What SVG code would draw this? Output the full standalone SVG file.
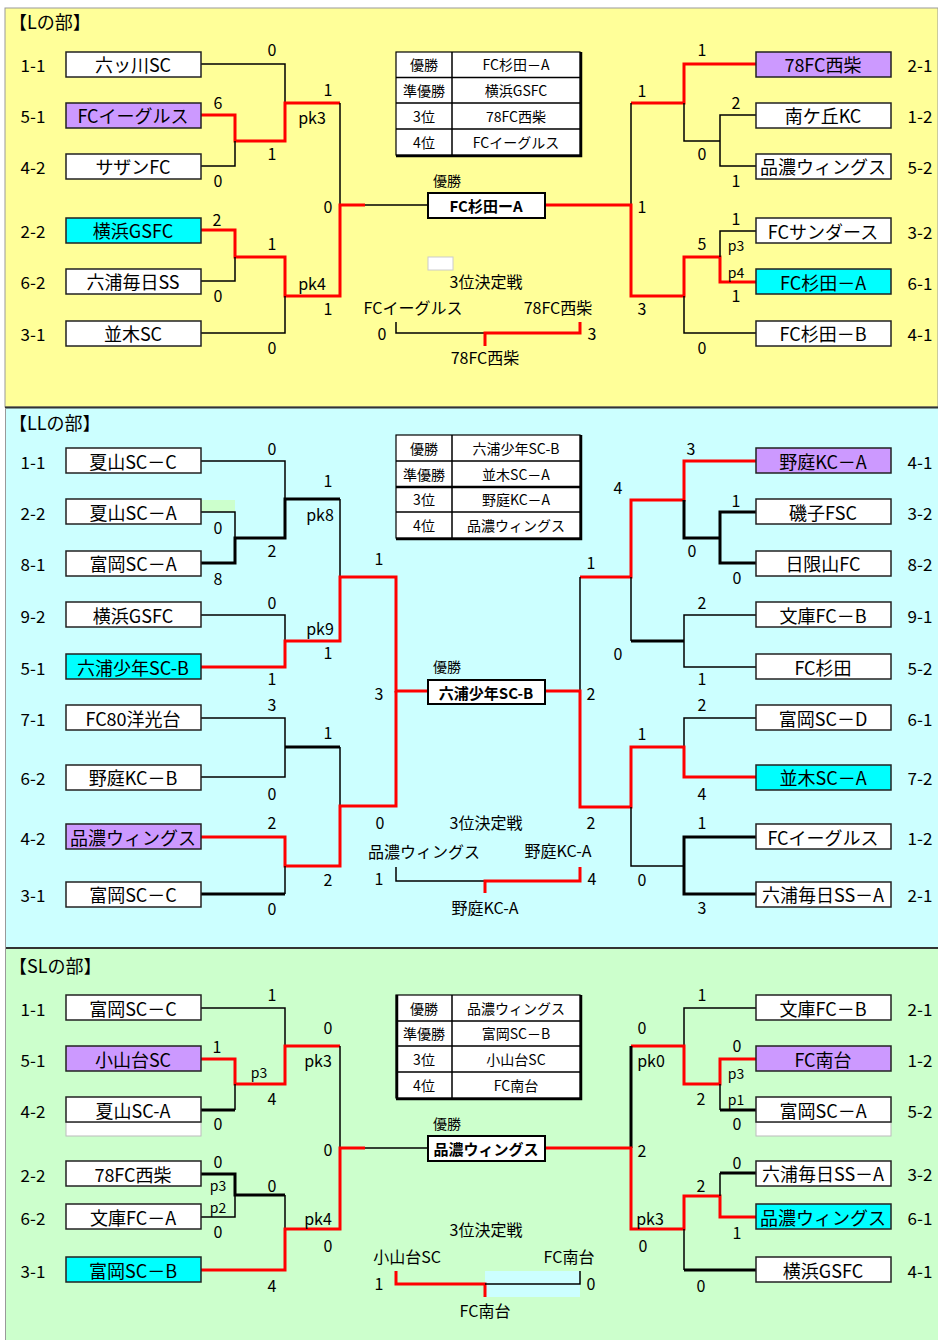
<svg xmlns="http://www.w3.org/2000/svg" width="938" height="1340" viewBox="0 0 938 1340">
<style>
text{font-family:"Noto Sans CJK JP","Noto Sans",sans-serif;fill:#000;dominant-baseline:central;text-anchor:middle}
.nm{font-size:18px}
.sd{font-size:17px}
.sc{font-size:16px}
.pk{font-size:14px}
.tb{font-size:14px}
.bd{font-size:15px;font-weight:bold}
.ti{font-size:18px;text-anchor:start}
.bx{fill:#fff;stroke:#222;stroke-width:1.5}
.pu{fill:#CC99FF}
.cy{fill:#00FFFF}
.ln{fill:none;stroke:#000;stroke-width:1.5}
.tk{fill:none;stroke:#000;stroke-width:3}
.rd{fill:none;stroke:#FF0000;stroke-width:3}
.tbl{fill:#fff;stroke:#000;stroke-width:1.2}
.sh{fill:none;stroke:#000;stroke-width:2.5}
</style>
<rect width="938" height="1340" fill="#fff"/>
<g id="backgrounds">
<rect x="5" y="8" width="933" height="399" fill="#FFFF99" stroke="#999" stroke-width="1"/>
<rect x="5" y="408" width="933" height="540" fill="#CCFFFF"/>
<rect x="5" y="949" width="933" height="391" fill="#CCFFCC"/>
<line x1="5" y1="407.5" x2="938" y2="407.5" stroke="#333" stroke-width="2"/>
<line x1="5" y1="948" x2="938" y2="948" stroke="#333" stroke-width="2"/>
<line x1="5.5" y1="408" x2="5.5" y2="1340" stroke="#999" stroke-width="1"/>
</g>
<g id="titles">
<text class="ti" x="9" y="21">【Lの部】</text>
<text class="ti" x="9" y="422">【LLの部】</text>
<text class="ti" x="9" y="965">【SLの部】</text>
</g>
<g id="extras">
<rect x="428" y="257" width="25" height="13" fill="#fff" stroke="#ccc"/>
<rect x="201" y="500" width="34" height="12" fill="#CCFFCC"/>
<rect x="66" y="1122" width="135" height="14" fill="#fff" stroke="#bbb"/>
<rect x="756" y="1122" width="135" height="14" fill="#fff" stroke="#bbb"/>
<rect x="485" y="1271" width="95" height="26" fill="#CCFFFF"/>
</g>
<g id="connectors">
<path class="ln" d="M201,64 H285 V103"/>
<path class="rd" d="M201,115 H235 V141 H285 V103 H340"/>
<path class="ln" d="M201,166 H235 V141"/>
<path class="ln" d="M340,103 V205"/>
<path class="rd" d="M201,230 H235 V257 H285 V296 H340 V205 H365"/>
<path class="ln" d="M201,281 H235 V257"/>
<path class="ln" d="M201,333 H285 V296"/>
<path class="ln" d="M365,205 H428"/>
<path class="rd" d="M756,64 H684 V103 H631"/>
<path class="ln" d="M684,103 V141 H720"/>
<path class="ln" d="M756,115 H720 V166 H756"/>
<path class="ln" d="M631,103 V205"/>
<path class="rd" d="M545,205 H631 V296 H684 V257 H720 V282 H756"/>
<path class="ln" d="M756,231 H720 V257"/>
<path class="ln" d="M684,296 V333 H756"/>
<path class="ln" d="M396,322 V333 H485"/>
<path class="rd" d="M485,346 V333 H580 V322"/>
<path class="ln" d="M201,461 H285 V499"/>
<path class="ln" d="M201,512 H235 V538"/>
<path class="tk" d="M201,563 H235 V538 H285 V499 H340"/>
<path class="ln" d="M340,499 V577"/>
<path class="ln" d="M201,615 H285 V641"/>
<path class="rd" d="M201,667 H285 V641 H340 V577 H396 V691 H428"/>
<path class="ln" d="M201,718 H285 V777 H201"/>
<path class="tk" d="M285,747 H340"/>
<path class="ln" d="M340,747 V866"/>
<path class="rd" d="M201,837 H285 V866 H340 V806 H396 V691"/>
<path class="tk" d="M201,894 H285"/>
<path class="ln" d="M285,894 V866"/>
<path class="rd" d="M756,461 H684 V500 H631 V577 H580"/>
<path class="tk" d="M684,500 V538 H720"/>
<path class="tk" d="M756,512 H720 V563 H756"/>
<path class="ln" d="M580,577 V691"/>
<path class="ln" d="M631,577 V641"/>
<path class="tk" d="M631,641 H684"/>
<path class="ln" d="M756,615 H684 V667 H756"/>
<path class="ln" d="M756,718 H684 V747"/>
<path class="rd" d="M545,691 H580 V807 H631 V747 H684 V777 H756"/>
<path class="ln" d="M631,807 V866 H684"/>
<path class="tk" d="M756,837 H684 V894 H756"/>
<path class="ln" d="M396,867 V881 H485"/>
<path class="rd" d="M485,893 V881 H580 V867"/>
<path class="ln" d="M201,1008 H285 V1046"/>
<path class="rd" d="M201,1059 H235 V1084 H285 V1046 H340"/>
<path class="tk" d="M201,1110 H235"/>
<path class="ln" d="M235,1110 V1084"/>
<path class="ln" d="M340,1046 V1148"/>
<path class="tk" d="M201,1174 H235 V1195 H285"/>
<path class="ln" d="M201,1217 H235 V1195"/>
<path class="ln" d="M285,1195 V1229"/>
<path class="rd" d="M201,1270 H285 V1229 H340 V1148 H365"/>
<path class="ln" d="M365,1148 H428"/>
<path class="ln" d="M756,1008 H684 V1046"/>
<path class="rd" d="M756,1059 H720 V1084 H684 V1046 H631"/>
<path class="tk" d="M756,1110 H720"/>
<path class="ln" d="M720,1110 V1084"/>
<path class="tk" d="M631,1046 V1148"/>
<path class="rd" d="M545,1148 H631 V1229 H684 V1196 H720 V1217 H756"/>
<path class="tk" d="M756,1173 H720"/>
<path class="ln" d="M720,1173 V1196"/>
<path class="ln" d="M684,1229 V1270"/>
<path class="tk" d="M684,1270 H756"/>
<path class="rd" d="M396,1271 V1284 H485 V1297"/>
<path class="ln" d="M485,1284 H580 V1271"/>
</g>
<g id="L-teams">
<g id="L-l1"><text class="sd" x="33" y="64">1-1</text><rect class="bx" x="66" y="52" width="135" height="25"/><text class="nm" x="133" y="64">六ッ川SC</text></g>
<g id="L-l2"><text class="sd" x="33" y="115">5-1</text><rect class="bx pu" x="66" y="103" width="135" height="25"/><text class="nm" x="133" y="115">FCイーグルス</text></g>
<g id="L-l3"><text class="sd" x="33" y="166">4-2</text><rect class="bx" x="66" y="154" width="135" height="25"/><text class="nm" x="133" y="166">サザンFC</text></g>
<g id="L-l4"><text class="sd" x="33" y="230">2-2</text><rect class="bx cy" x="66" y="218" width="135" height="25"/><text class="nm" x="133" y="230">横浜GSFC</text></g>
<g id="L-l5"><text class="sd" x="33" y="281">6-2</text><rect class="bx" x="66" y="269" width="135" height="25"/><text class="nm" x="133" y="281">六浦毎日SS</text></g>
<g id="L-l6"><text class="sd" x="33" y="333">3-1</text><rect class="bx" x="66" y="321" width="135" height="25"/><text class="nm" x="133" y="333">並木SC</text></g>
<g id="L-r1"><rect class="bx pu" x="756" y="52" width="135" height="25"/><text class="nm" x="823" y="64">78FC西柴</text><text class="sd" x="920" y="64">2-1</text></g>
<g id="L-r2"><rect class="bx" x="756" y="103" width="135" height="25"/><text class="nm" x="823" y="115">南ケ丘KC</text><text class="sd" x="920" y="115">1-2</text></g>
<g id="L-r3"><rect class="bx" x="756" y="154" width="135" height="25"/><text class="nm" x="823" y="166">品濃ウィングス</text><text class="sd" x="920" y="166">5-2</text></g>
<g id="L-r4"><rect class="bx" x="756" y="218" width="135" height="25"/><text class="nm" x="823" y="231">FCサンダース</text><text class="sd" x="920" y="231">3-2</text></g>
<g id="L-r5"><rect class="bx cy" x="756" y="269" width="135" height="25"/><text class="nm" x="823" y="282">FC杉田－A</text><text class="sd" x="920" y="282">6-1</text></g>
<g id="L-r6"><rect class="bx" x="756" y="321" width="135" height="25"/><text class="nm" x="823" y="333">FC杉田－B</text><text class="sd" x="920" y="333">4-1</text></g>
</g>
<g id="L-scores">
<text class="sc" x="272" y="49">0</text><text class="sc" x="328" y="89">1</text><text class="sc" x="218" y="102">6</text><text class="sc" x="312" y="117">pk3</text><text class="sc" x="272" y="153">1</text><text class="sc" x="218" y="180">0</text>
<text class="sc" x="328" y="206">0</text><text class="sc" x="217" y="219">2</text><text class="sc" x="272" y="243">1</text><text class="sc" x="312" y="283">pk4</text><text class="sc" x="218" y="295">0</text><text class="sc" x="328" y="308">1</text><text class="sc" x="272" y="347">0</text>
<text class="sc" x="702" y="49">1</text><text class="sc" x="642" y="90">1</text><text class="sc" x="736" y="102">2</text><text class="sc" x="702" y="153">0</text><text class="sc" x="736" y="180">1</text>
<text class="sc" x="642" y="206">1</text><text class="sc" x="736" y="218">1</text><text class="sc" x="702" y="243">5</text><text class="pk" x="736" y="245">p3</text><text class="pk" x="736" y="272">p4</text><text class="sc" x="736" y="295">1</text><text class="sc" x="642" y="308">3</text><text class="sc" x="702" y="347">0</text>
</g>
<g id="L-table">
<rect class="tbl" x="396" y="52" width="184" height="103"/>
<path class="ln" d="M452,52 V155 M396,77.5 H580 M396,103 H580 M396,129 H580"/>
<path class="sh" d="M581,52 V156 H396"/>
<text class="tb" x="424" y="64">優勝</text><text class="tb" x="424" y="90">準優勝</text><text class="tb" x="424" y="116">3位</text><text class="tb" x="424" y="142">4位</text>
<text class="tb" x="516" y="64">FC杉田－A</text><text class="tb" x="516" y="90">横浜GSFC</text><text class="tb" x="516" y="116">78FC西柴</text><text class="tb" x="516" y="142">FCイーグルス</text>
</g>
<g id="L-final">
<text class="tb" x="447" y="180">優勝</text>
<rect x="428" y="193" width="117" height="25" fill="#fff" stroke="#000" stroke-width="2"/>
<text class="bd" x="486" y="205">FC杉田ーA</text>
</g>
<g id="L-third">
<text class="sc" x="486" y="281">3位決定戦</text>
<text class="sc" x="413" y="307">FCイーグルス</text>
<text class="sc" x="558" y="307">78FC西柴</text>
<text class="sc" x="382" y="333">0</text><text class="sc" x="592" y="333">3</text>
<text class="sc" x="485" y="357">78FC西柴</text>
</g>
<g id="LL-teams">
<g id="LL-l1"><text class="sd" x="33" y="461">1-1</text><rect class="bx" x="66" y="448" width="135" height="25"/><text class="nm" x="133" y="461">夏山SC－C</text></g>
<g id="LL-l2"><text class="sd" x="33" y="512">2-2</text><rect class="bx" x="66" y="499" width="135" height="25"/><text class="nm" x="133" y="512">夏山SC－A</text></g>
<g id="LL-l3"><text class="sd" x="33" y="563">8-1</text><rect class="bx" x="66" y="551" width="135" height="25"/><text class="nm" x="133" y="563">富岡SC－A</text></g>
<g id="LL-l4"><text class="sd" x="33" y="615">9-2</text><rect class="bx" x="66" y="602" width="135" height="25"/><text class="nm" x="133" y="615">横浜GSFC</text></g>
<g id="LL-l5"><text class="sd" x="33" y="667">5-1</text><rect class="bx cy" x="66" y="654" width="135" height="25"/><text class="nm" x="133" y="667">六浦少年SC-B</text></g>
<g id="LL-l6"><text class="sd" x="33" y="718">7-1</text><rect class="bx" x="66" y="705" width="135" height="25"/><text class="nm" x="133" y="718">FC80洋光台</text></g>
<g id="LL-l7"><text class="sd" x="33" y="777">6-2</text><rect class="bx" x="66" y="765" width="135" height="25"/><text class="nm" x="133" y="777">野庭KC－B</text></g>
<g id="LL-l8"><text class="sd" x="33" y="837">4-2</text><rect class="bx pu" x="66" y="824" width="135" height="25"/><text class="nm" x="133" y="837">品濃ウィングス</text></g>
<g id="LL-l9"><text class="sd" x="33" y="894">3-1</text><rect class="bx" x="66" y="882" width="135" height="25"/><text class="nm" x="133" y="894">富岡SC－C</text></g>
<g id="LL-r1"><rect class="bx pu" x="756" y="448" width="135" height="25"/><text class="nm" x="823" y="461">野庭KC－A</text><text class="sd" x="920" y="461">4-1</text></g>
<g id="LL-r2"><rect class="bx" x="756" y="499" width="135" height="25"/><text class="nm" x="823" y="512">磯子FSC</text><text class="sd" x="920" y="512">3-2</text></g>
<g id="LL-r3"><rect class="bx" x="756" y="551" width="135" height="25"/><text class="nm" x="823" y="563">日限山FC</text><text class="sd" x="920" y="563">8-2</text></g>
<g id="LL-r4"><rect class="bx" x="756" y="602" width="135" height="25"/><text class="nm" x="823" y="615">文庫FC－B</text><text class="sd" x="920" y="615">9-1</text></g>
<g id="LL-r5"><rect class="bx" x="756" y="654" width="135" height="25"/><text class="nm" x="823" y="667">FC杉田</text><text class="sd" x="920" y="667">5-2</text></g>
<g id="LL-r6"><rect class="bx" x="756" y="705" width="135" height="25"/><text class="nm" x="823" y="718">富岡SC－D</text><text class="sd" x="920" y="718">6-1</text></g>
<g id="LL-r7"><rect class="bx cy" x="756" y="765" width="135" height="25"/><text class="nm" x="823" y="777">並木SC－A</text><text class="sd" x="920" y="777">7-2</text></g>
<g id="LL-r8"><rect class="bx" x="756" y="824" width="135" height="25"/><text class="nm" x="823" y="837">FCイーグルス</text><text class="sd" x="920" y="837">1-2</text></g>
<g id="LL-r9"><rect class="bx" x="756" y="882" width="135" height="25"/><text class="nm" x="823" y="894">六浦毎日SS－A</text><text class="sd" x="920" y="894">2-1</text></g>
</g>
<g id="LL-scores">
<text class="sc" x="272" y="448">0</text><text class="sc" x="328" y="480">1</text><text class="sc" x="320" y="514">pk8</text><text class="sc" x="218" y="527">0</text><text class="sc" x="272" y="550">2</text><text class="sc" x="218" y="578">8</text><text class="sc" x="379" y="558">1</text>
<text class="sc" x="272" y="602">0</text><text class="sc" x="320" y="628">pk9</text><text class="sc" x="328" y="652">1</text><text class="sc" x="272" y="678">1</text><text class="sc" x="379" y="693">3</text>
<text class="sc" x="272" y="704">3</text><text class="sc" x="328" y="732">1</text><text class="sc" x="272" y="793">0</text><text class="sc" x="272" y="822">2</text><text class="sc" x="380" y="822">0</text><text class="sc" x="328" y="879">2</text><text class="sc" x="272" y="908">0</text>
<text class="sc" x="691" y="448">3</text><text class="sc" x="618" y="487">4</text><text class="sc" x="736" y="500">1</text><text class="sc" x="692" y="550">0</text><text class="sc" x="591" y="562">1</text><text class="sc" x="737" y="577">0</text>
<text class="sc" x="702" y="602">2</text><text class="sc" x="618" y="653">0</text><text class="sc" x="702" y="678">1</text><text class="sc" x="591" y="693">2</text>
<text class="sc" x="702" y="704">2</text><text class="sc" x="642" y="733">1</text><text class="sc" x="702" y="793">4</text><text class="sc" x="591" y="822">2</text><text class="sc" x="702" y="822">1</text><text class="sc" x="642" y="879">0</text><text class="sc" x="702" y="907">3</text>
</g>
<g id="LL-table">
<rect class="tbl" x="396" y="435" width="184" height="103"/>
<path class="ln" d="M452,435 V538 M396,461 H580 M396,512 H580"/>
<path class="sh" d="M396,487 H580"/>
<path class="sh" d="M581,435 V539 H396"/>
<text class="tb" x="424" y="448">優勝</text><text class="tb" x="424" y="474">準優勝</text><text class="tb" x="424" y="499">3位</text><text class="tb" x="424" y="525">4位</text>
<text class="tb" x="516" y="448">六浦少年SC-B</text><text class="tb" x="516" y="474">並木SC－A</text><text class="tb" x="516" y="499">野庭KC－A</text><text class="tb" x="516" y="525">品濃ウィングス</text>
</g>
<g id="LL-final">
<text class="tb" x="447" y="666">優勝</text>
<rect x="428" y="680" width="117" height="24" fill="#fff" stroke="#000" stroke-width="2"/>
<text class="bd" x="486" y="692">六浦少年SC-B</text>
</g>
<g id="LL-third">
<text class="sc" x="486" y="822">3位決定戦</text>
<text class="sc" x="424" y="851">品濃ウィングス</text>
<text class="sc" x="558" y="850">野庭KC-A</text>
<text class="sc" x="379" y="878">1</text><text class="sc" x="592" y="878">4</text>
<text class="sc" x="485" y="907">野庭KC-A</text>
</g>
<g id="SL-teams">
<g id="SL-l1"><text class="sd" x="33" y="1008">1-1</text><rect class="bx" x="66" y="995" width="135" height="25"/><text class="nm" x="133" y="1008">富岡SC－C</text></g>
<g id="SL-l2"><text class="sd" x="33" y="1059">5-1</text><rect class="bx pu" x="66" y="1046" width="135" height="25"/><text class="nm" x="133" y="1059">小山台SC</text></g>
<g id="SL-l3"><text class="sd" x="33" y="1110">4-2</text><rect class="bx" x="66" y="1097" width="135" height="25"/><text class="nm" x="133" y="1110">夏山SC-A</text></g>
<g id="SL-l4"><text class="sd" x="33" y="1174">2-2</text><rect class="bx" x="66" y="1161" width="135" height="25"/><text class="nm" x="133" y="1174">78FC西柴</text></g>
<g id="SL-l5"><text class="sd" x="33" y="1217">6-2</text><rect class="bx" x="66" y="1204" width="135" height="25"/><text class="nm" x="133" y="1217">文庫FC－A</text></g>
<g id="SL-l6"><text class="sd" x="33" y="1270">3-1</text><rect class="bx cy" x="66" y="1257" width="135" height="25"/><text class="nm" x="133" y="1270">富岡SC－B</text></g>
<g id="SL-r1"><rect class="bx" x="756" y="995" width="135" height="25"/><text class="nm" x="823" y="1008">文庫FC－B</text><text class="sd" x="920" y="1008">2-1</text></g>
<g id="SL-r2"><rect class="bx pu" x="756" y="1046" width="135" height="25"/><text class="nm" x="823" y="1059">FC南台</text><text class="sd" x="920" y="1059">1-2</text></g>
<g id="SL-r3"><rect class="bx" x="756" y="1097" width="135" height="25"/><text class="nm" x="823" y="1110">富岡SC－A</text><text class="sd" x="920" y="1110">5-2</text></g>
<g id="SL-r4"><rect class="bx" x="756" y="1161" width="135" height="25"/><text class="nm" x="823" y="1173">六浦毎日SS－A</text><text class="sd" x="920" y="1173">3-2</text></g>
<g id="SL-r5"><rect class="bx cy" x="756" y="1204" width="135" height="25"/><text class="nm" x="823" y="1217">品濃ウィングス</text><text class="sd" x="920" y="1217">6-1</text></g>
<g id="SL-r6"><rect class="bx" x="756" y="1257" width="135" height="25"/><text class="nm" x="823" y="1270">横浜GSFC</text><text class="sd" x="920" y="1270">4-1</text></g>
</g>
<g id="SL-scores">
<text class="sc" x="272" y="994">1</text><text class="sc" x="328" y="1027">0</text><text class="sc" x="217" y="1046">1</text><text class="pk" x="259" y="1072">p3</text><text class="sc" x="318" y="1060">pk3</text><text class="sc" x="272" y="1098">4</text><text class="sc" x="218" y="1123">0</text>
<text class="sc" x="328" y="1149">0</text><text class="sc" x="218" y="1161">0</text><text class="pk" x="218" y="1185">p3</text><text class="sc" x="272" y="1185">0</text><text class="pk" x="218" y="1207">p2</text><text class="sc" x="318" y="1218">pk4</text><text class="sc" x="218" y="1231">0</text><text class="sc" x="328" y="1245">0</text><text class="sc" x="272" y="1285">4</text>
<text class="sc" x="702" y="994">1</text><text class="sc" x="642" y="1027">0</text><text class="sc" x="737" y="1045">0</text><text class="sc" x="651" y="1060">pk0</text><text class="pk" x="736" y="1073">p3</text><text class="sc" x="701" y="1098">2</text><text class="pk" x="736" y="1099">p1</text><text class="sc" x="737" y="1123">0</text>
<text class="sc" x="642" y="1150">2</text><text class="sc" x="737" y="1162">0</text><text class="sc" x="701" y="1185">2</text><text class="sc" x="650" y="1218">pk3</text><text class="sc" x="737" y="1232">1</text><text class="sc" x="643" y="1245">0</text><text class="sc" x="701" y="1285">0</text>
</g>
<g id="SL-table">
<rect class="tbl" x="396" y="995" width="184" height="103"/>
<path class="ln" d="M452,995 V1098 M396,1021 H580 M396,1046 H580 M396,1072 H580"/>
<path class="sh" d="M581,995 V1099 H396"/>
<path class="sh" d="M397,995 V1098"/>
<text class="tb" x="424" y="1008">優勝</text><text class="tb" x="424" y="1033">準優勝</text><text class="tb" x="424" y="1059">3位</text><text class="tb" x="424" y="1085">4位</text>
<text class="tb" x="516" y="1008">品濃ウィングス</text><text class="tb" x="516" y="1033">富岡SC－B</text><text class="tb" x="516" y="1059">小山台SC</text><text class="tb" x="516" y="1085">FC南台</text>
</g>
<g id="SL-final">
<text class="tb" x="447" y="1123">優勝</text>
<rect x="428" y="1136" width="117" height="25" fill="#fff" stroke="#000" stroke-width="2"/>
<text class="bd" x="486" y="1148">品濃ウィングス</text>
</g>
<g id="SL-third">
<text class="sc" x="486" y="1229">3位決定戦</text>
<text class="sc" x="407" y="1256">小山台SC</text>
<text class="sc" x="569" y="1256">FC南台</text>
<text class="sc" x="379" y="1283">1</text><text class="sc" x="591" y="1283">0</text>
<text class="sc" x="485" y="1310">FC南台</text>
</g>
</svg>
